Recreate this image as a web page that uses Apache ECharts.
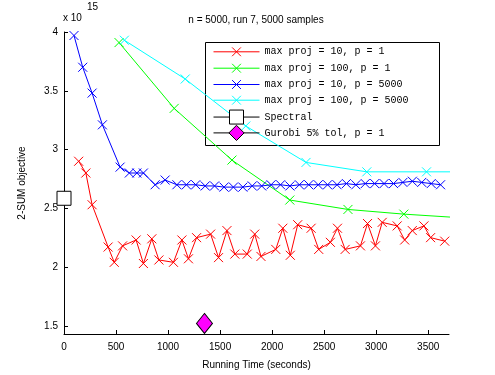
<!DOCTYPE html>
<html>
<head>
<meta charset="utf-8">
<script src="https://cdn.jsdelivr.net/npm/echarts@6.0.0/dist/echarts.min.js"></script>
<style>
    html, body {margin: 0; padding: 0; background: #fff;}
    #chart {width: 495px; height: 375px;}
</style>
</head>
<body>
<div id="chart"></div>
<script>
// values (objective in units of 1e15)
const redTime = [141, 210, 270, 424, 483, 563, 693, 763, 844, 912, 1052, 1133, 1196, 1274, 1409, 1485, 1566, 1642, 1761, 1833,
    1893, 2035, 2103, 2175, 2246, 2375, 2448, 2560, 2628, 2702, 2849, 2917, 2993, 3058, 3202, 3274, 3347, 3459, 3523, 3659];
const redObj = [2.90, 2.80, 2.53, 2.17, 2.04, 2.18, 2.23, 2.03, 2.24, 2.06, 2.04, 2.23, 2.07, 2.25, 2.28, 2.08, 2.31, 2.11, 2.11, 2.28,
    2.09, 2.15, 2.33, 2.10, 2.36, 2.33, 2.15, 2.21, 2.33, 2.15, 2.18, 2.37, 2.18, 2.38, 2.35, 2.23, 2.31, 2.35, 2.25, 2.22];

const greenTime = [529, 1059, 1614, 2170, 2729, 3266, 3800];
const greenObj = [3.91, 3.35, 2.91, 2.57, 2.49, 2.45, 2.42];

const blueTime = [96, 180, 270, 369, 539, 628, 700, 763, 876, 972, 1085, 1176, 1266, 1357, 1447, 1538, 1628, 1719, 1809, 1900,
    1990, 2081, 2171, 2262, 2352, 2443, 2533, 2624, 2714, 2805, 2895, 2986, 3076, 3167, 3257, 3348, 3438, 3529, 3619];
const blueObj = [3.97, 3.70, 3.48, 3.21, 2.85, 2.80, 2.80, 2.80, 2.70, 2.74, 2.70, 2.70, 2.70, 2.69, 2.69, 2.68, 2.68, 2.68, 2.69, 2.69,
    2.70, 2.70, 2.69, 2.70, 2.70, 2.70, 2.70, 2.70, 2.71, 2.70, 2.71, 2.71, 2.71, 2.71, 2.72, 2.73, 2.72, 2.71, 2.70];

const cyanTime = [580, 1165, 1747, 2326, 2910, 3484, 4070];
const cyanObj = [3.93, 3.60, 3.20, 2.89, 2.81, 2.81, 2.81];

const spectralTime = [0];
const spectralObj = [2.585];
const gurobiTime = [1350];
const gurobiObj = [1.52];

const xTicks = [0, 500, 1000, 1500, 2000, 2500, 3000, 3500];
const yTicks = [1.5, 2, 2.5, 3, 3.5, 4];

const seriesNames = ['max proj = 10, p = 1', 'max proj = 100, p = 1', 'max proj = 10, p = 5000',
    'max proj = 100, p = 5000', 'Spectral', 'Gurobi 5% tol, p = 1'];

const sans = 'Liberation Sans, Arial, sans-serif';
const mono = 'Liberation Mono, DejaVu Sans Mono, monospace';
const cross = 'path://M0,0L10,10M10,0L0,10';

const zip = (xs, ys) => xs.map((x, i) => [x, ys[i]]);

const crossLine = (name, color, xs, ys) => ({
    name: name,
    type: 'line',
    data: zip(xs, ys),
    symbol: cross,
    symbolSize: 9,
    showAllSymbol: true,
    clip: true,
    silent: true,
    lineStyle: {color: color, width: 1},
    itemStyle: {color: color, borderColor: color, borderWidth: 1},
    emphasis: {disabled: true}
});

const chart = echarts.init(document.getElementById('chart'));

// legend rows: one legend per entry so the rows sit where matlab put them
const legendRow = [52.3, 68.7, 85, 100.7, 118.3, 134.3];
const legendIcon = [11, 11, 11, 11, 17.5, 19];

const option = {
    animation: false,
    backgroundColor: '#fff',
    title: {
        text: 'n = 5000, run 7, 5000 samples',
        left: 256,
        top: 15,
        textAlign: 'center',
        padding: 0,
        textStyle: {fontFamily: sans, fontSize: 10, fontWeight: 'normal', color: '#000'}
    },
    grid: {
        left: 64,
        top: 32,
        width: 385,
        height: 302,
        outerBoundsMode: 'none'
    },
    legend: seriesNames.map((n, i) => ({
        data: [n],
        orient: 'vertical',
        left: 213,
        top: legendRow[i] - legendIcon[i] / 2,
        padding: 0,
        itemGap: 0,
        itemWidth: 46,
        itemHeight: legendIcon[i],
        selectedMode: false,
        z: 5,
        itemStyle: {borderWidth: 1},
        lineStyle: {width: 1},
        textStyle: {fontFamily: mono, fontSize: 10, color: '#000'}
    })),
    graphic: [
        {
            type: 'rect',
            z: 3,
            silent: true,
            shape: {x: 205.5, y: 42.5, width: 234, height: 103},
            style: {fill: '#fff', stroke: '#000', lineWidth: 1}
        },
        {
            type: 'text',
            left: 63,
            top: 13,
            style: {text: 'x 10', font: '10px ' + sans, fill: '#000'}
        },
        {
            type: 'text',
            left: 87,
            top: 2,
            style: {text: '15', font: '10px ' + sans, fill: '#000'}
        }
    ],
    xAxis: {
        type: 'value',
        min: 0,
        max: 3700,
        name: 'Running Time (seconds)',
        nameLocation: 'middle',
        nameGap: 26,
        nameTextStyle: {fontFamily: sans, fontSize: 10, color: '#000'},
        axisLine: {show: true, onZero: false, lineStyle: {color: '#000', width: 1}},
        axisTick: {show: true, inside: true, length: 4, customValues: xTicks, lineStyle: {color: '#000'}},
        axisLabel: {
            customValues: xTicks,
            formatter: v => String(v),
            margin: 8, fontFamily: sans, fontSize: 10, color: '#000'
        },
        splitLine: {show: false}
    },
    yAxis: {
        type: 'value',
        min: 1.43,
        max: 4,
        name: '2-SUM objective',
        nameLocation: 'middle',
        nameGap: 37,
        nameMoveOverlap: false,
        nameTextStyle: {fontFamily: sans, fontSize: 10, color: '#000'},
        axisLine: {show: true, onZero: false, lineStyle: {color: '#000', width: 1}},
        axisTick: {show: true, inside: true, length: 4, customValues: yTicks, lineStyle: {color: '#000'}},
        axisLabel: {
            customValues: yTicks,
            formatter: v => String(v),
            margin: 6, fontFamily: sans, fontSize: 10, color: '#000'
        },
        splitLine: {show: false}
    },
    series: [
        crossLine(seriesNames[0], '#ff0000', redTime, redObj),
        crossLine(seriesNames[1], '#00ff00', greenTime, greenObj),
        crossLine(seriesNames[2], '#0000ff', blueTime, blueObj),
        crossLine(seriesNames[3], '#00ffff', cyanTime, cyanObj),
        {
            name: seriesNames[4],
            type: 'line',
            data: zip(spectralTime, spectralObj),
            symbol: 'rect',
            symbolSize: 14,
            clip: false,
            silent: true,
            lineStyle: {color: '#000', width: 1},
            itemStyle: {color: '#fff', borderColor: '#000', borderWidth: 1},
            emphasis: {disabled: true}
        },
        {
            name: seriesNames[5],
            type: 'line',
            data: zip(gurobiTime, gurobiObj),
            symbol: 'diamond',
            symbolSize: [16, 20],
            clip: false,
            silent: true,
            lineStyle: {color: '#000', width: 1},
            itemStyle: {color: '#ff00ff', borderColor: '#000', borderWidth: 1},
            emphasis: {disabled: true}
        }
    ]
};

chart.setOption(option);
</script>
</body>
</html>
